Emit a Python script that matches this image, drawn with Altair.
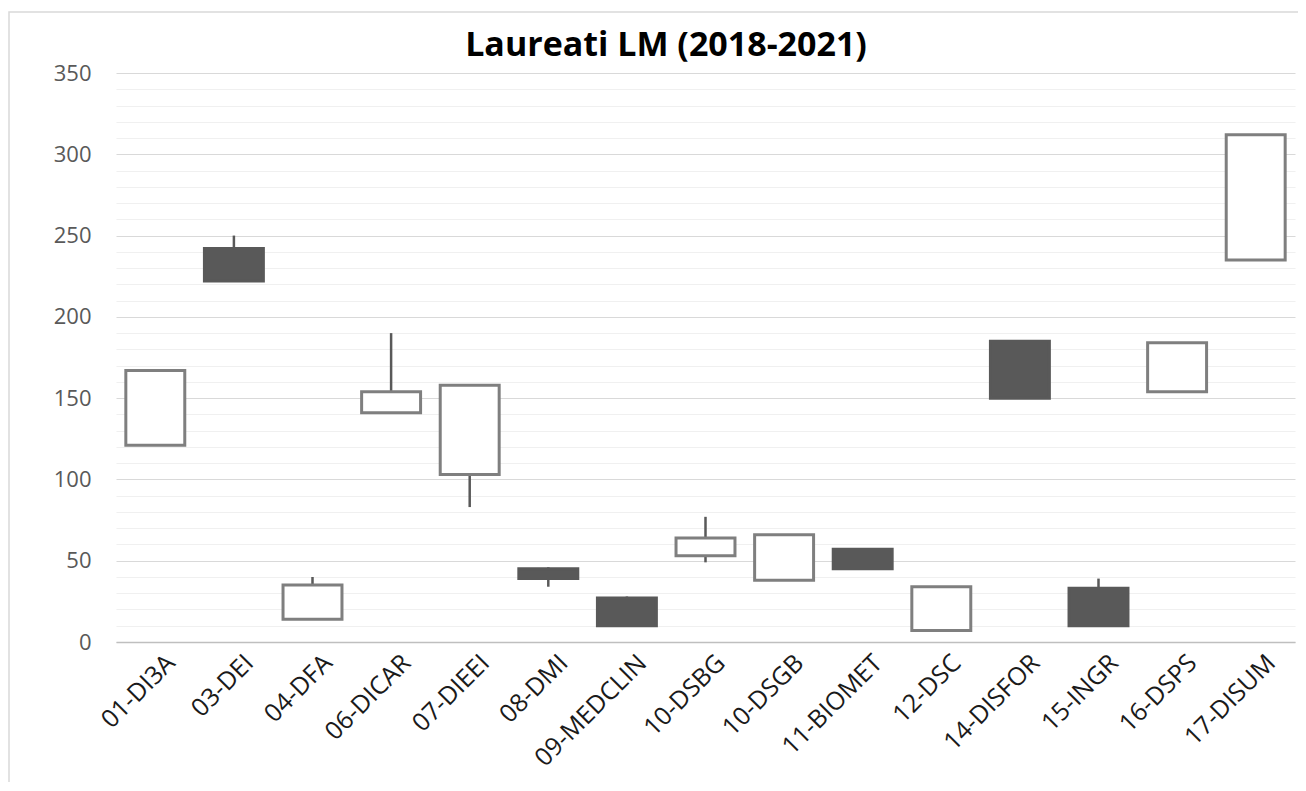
import altair as alt
import pandas as pd

categories = ["01-DI3A", "03-DEI", "04-DFA", "06-DICAR", "07-DIEEI", "08-DMI",
              "09-MEDCLIN", "10-DSBG", "10-DSGB", "11-BIOMET", "12-DSC",
              "14-DISFOR", "15-INGR", "16-DSPS", "17-DISUM"]
open_vals = [121, 242, 14, 141, 103, 45, 27, 53, 38, 57, 7, 185, 33, 154, 235]
close_vals = [167, 222, 35, 154, 158, 39, 10, 64, 66, 45, 34, 150, 10, 184, 312]
high_vals = [167, 250, 40, 190, 158, 46, 28, 77, 66, 57, 34, 185, 39, 184, 312]
low_vals = [121, 222, 14, 141, 83, 34, 10, 49, 38, 45, 7, 150, 10, 154, 235]
y_tick_values = list(range(0, 351, 10))
title_text = "Laureati LM (2018-2021)"

df = pd.DataFrame({
    "cat": categories,
    "open": open_vals,
    "close": close_vals,
    "high": high_vals,
    "low": low_vals,
})
df["dir"] = ["up" if c >= o else "down" for o, c in zip(open_vals, close_vals)]

FONT = "Open Sans"

x_enc = alt.X(
    "cat:N", sort=categories,
    scale=alt.Scale(paddingInner=0.25, paddingOuter=0.125),
    axis=alt.Axis(title=None, labelAngle=-45, labelFont=FONT, labelFontSize=25,
                  labelColor="#1a1a1a", ticks=False, domainColor="#bfbfbf",
                  domainWidth=1.5, labelPadding=8, labelOffset=7, grid=False),
)

y_axis = alt.Axis(
    title=None, values=y_tick_values,
    labelExpr="datum.value % 50 === 0 ? datum.label : ''",
    labelFont=FONT, labelFontSize=22, labelColor="#595959", labelPadding=25,
    ticks=False, domain=False, grid=True,
    gridColor={"condition": {"test": "datum.value % 50 === 0", "value": "#d9d9d9"},
               "value": "#f0f0f0"},
    gridWidth=1.2,
)
y_scale = alt.Scale(domain=[0, 350], nice=False)

base = alt.Chart(df)

wicks = base.mark_rule(color="#595959", strokeWidth=2.5).encode(
    x=x_enc,
    y=alt.Y("low:Q", scale=y_scale, axis=y_axis),
    y2="high:Q",
)

bodies = base.mark_bar(strokeWidth=3).encode(
    x=x_enc,
    y=alt.Y("open:Q", scale=y_scale, axis=y_axis),
    y2="close:Q",
    fill=alt.Fill("dir:N", scale=alt.Scale(domain=["up", "down"], range=["#ffffff", "#595959"]), legend=None),
    stroke=alt.Stroke("dir:N", scale=alt.Scale(domain=["up", "down"], range=["#7f7f7f", "#595959"]), legend=None),
)

one_row = pd.DataFrame({"k": [0]})

frame = alt.Chart(one_row).mark_rect(
    fill="transparent", stroke="#d9d9d9", strokeWidth=1.5
).encode(
    x=alt.value(-107), x2=alt.value(1300), y=alt.value(-61), y2=alt.value(800)
)

title = alt.Chart(one_row).mark_text(
    text=title_text, font=FONT, fontSize=34, fontWeight="bold", color="#000000",
    align="center", baseline="alphabetic"
).encode(x=alt.value(550), y=alt.value(-17))

chart = alt.layer(frame, title, wicks, bodies).properties(
    width=1179, height=569,
    autosize=alt.AutoSizeParams(type="none"),
    padding={"left": 108, "top": 65, "right": 3, "bottom": 140},
).configure_view(stroke=None)

chart.save("out.html", embed_options={"renderer": "svg", "actions": False})
